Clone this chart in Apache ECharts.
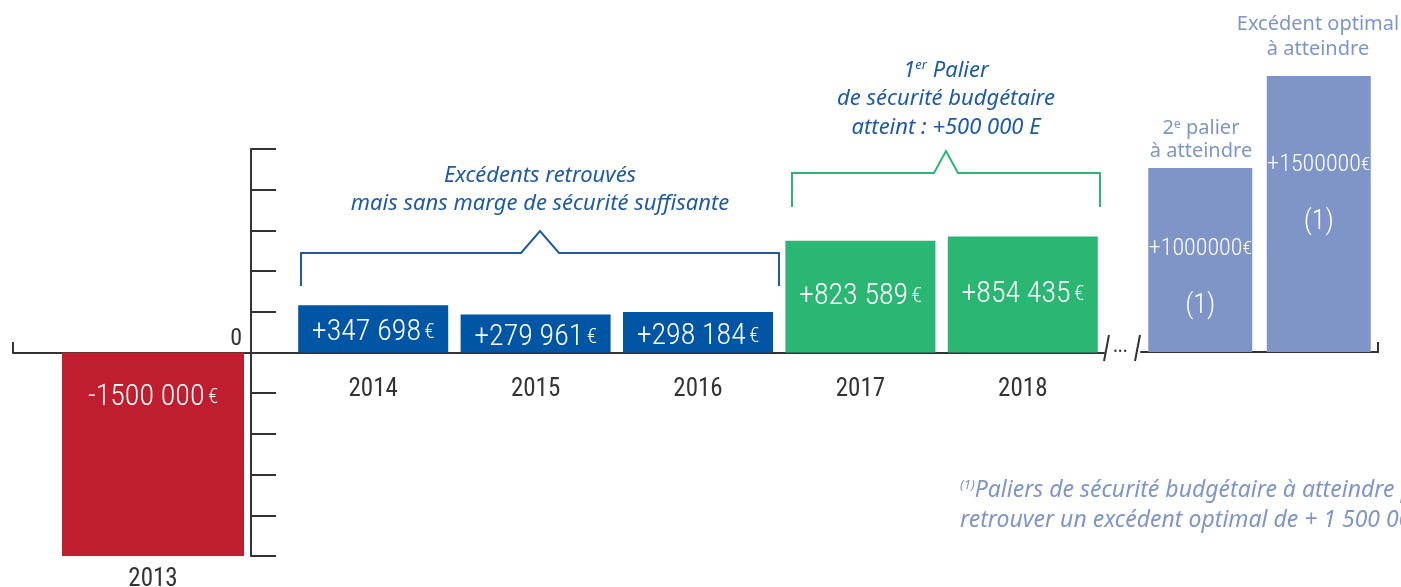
<!DOCTYPE html>
<html>
<head>
<meta charset="utf-8">
<script src="https://cdn.jsdelivr.net/npm/echarts@6/dist/echarts.min.js"></script>
<style>
html,body{margin:0;padding:0;background:#fff;}
#chart{width:1401px;height:587px;}
</style>
</head>
<body>
<div id="chart"></div>
<script>
// ---- data ----
const categoriesA = ['2013'];
const valuesA = [-1500000];
const labelsA = ['-1500 000'];

const categoriesB = ['2014', '2015', '2016', '2017', '2018'];
const blueValues = [347698, 279961, 298184, '-', '-'];
const greenValues = ['-', '-', '-', 823589, 854435];
const labelsB = ['+347 698', '+279 961', '+298 184', '+823 589', '+854 435'];

const categoriesC = ['2e palier', 'Excédent optimal'];
const targetValues = [1000000, 1500000];
const labelsC = ['+1000000', '+1500000'];

const yMin = -1500000, yMax = 1500000, yInterval = 300000;
const zeroLabel = '0';

// ---- styles ----
const numFont = '"Roboto Condensed", "Roboto", sans-serif';
const textFont = '"Noto Sans", "Open Sans", sans-serif';
const axisColor = '#333333';
const red = '#be1e2d', blue = '#0055a4', green = '#2bb673', lav = '#7f95c8', annBlue = '#1f5ba3';
const targetLabelDistance = [67, 75];

function richLabel(txt) { return '{n|' + txt + '} {e|€}'; }
const rich = {
  n: { fontFamily: numFont, fontWeight: 300, fontSize: 30, color: '#fff' },
  e: { fontFamily: numFont, fontWeight: 300, fontSize: 21, color: '#fff' }
};

const chart = echarts.init(document.getElementById('chart'), null, { renderer: 'canvas' });

const option = {
  backgroundColor: '#fff',
  animation: false,
  grid: [
    { left: 13, top: 149, width: 280, height: 407, outerBoundsMode: 'none', containLabel: false },
    { left: 292, top: 149, width: 812, height: 407, outerBoundsMode: 'none', containLabel: false },
    { left: 1141, top: 76, width: 237, height: 276, outerBoundsMode: 'none', containLabel: false }
  ],
  xAxis: [
    { type: 'category', gridIndex: 0, data: categoriesA,
      axisLine: { onZero: true, lineStyle: { color: axisColor, width: 2 } },
      axisTick: { show: false }, axisLabel: { show: false } },
    { type: 'category', gridIndex: 0, data: categoriesA, position: 'bottom',
      axisLine: { show: false, onZero: false }, axisTick: { show: false },
      axisLabel: { margin: 11, fontFamily: numFont, fontSize: 25, color: axisColor } },
    { type: 'category', gridIndex: 1, data: categoriesB,
      axisLine: { onZero: true, lineStyle: { color: axisColor, width: 2 } },
      axisTick: { show: false }, axisLabel: { show: false } },
    { type: 'category', gridIndex: 1, data: categoriesB, position: 'bottom', offset: -204,
      axisLine: { show: false, onZero: false }, axisTick: { show: false },
      axisLabel: { margin: 25, fontFamily: numFont, fontSize: 25, color: axisColor } },
    { type: 'category', gridIndex: 2, data: categoriesC,
      axisLine: { onZero: true, lineStyle: { color: axisColor, width: 2 } },
      axisTick: { show: false }, axisLabel: { show: false } }
  ],
  yAxis: [
    { type: 'value', gridIndex: 0, min: yMin, max: yMax, interval: yInterval, show: false, splitLine: { show: false } },
    { type: 'value', gridIndex: 1, min: yMin, max: yMax, interval: yInterval, position: 'left', offset: 41,
      axisLine: { show: true, lineStyle: { color: axisColor, width: 2 } },
      axisTick: { show: true, inside: true, length: 25, lineStyle: { color: axisColor, width: 2 } },
      splitLine: { show: false },
      axisLabel: { margin: 9, verticalAlign: 'bottom', fontFamily: numFont, fontSize: 24, color: axisColor,
        padding: [0, 0, 2, 0], formatter: v => (v === 0 ? zeroLabel : '') } },
    { type: 'value', gridIndex: 2, min: 0, max: 1500000, show: false, splitLine: { show: false } }
  ],
  series: [
    { type: 'bar', xAxisIndex: 0, yAxisIndex: 0, data: valuesA, barWidth: 182,
      itemStyle: { color: red },
      label: { show: true, position: 'insideTop', distance: 30,
        formatter: p => richLabel(labelsA[p.dataIndex]), rich: rich } },
    { type: 'bar', xAxisIndex: 2, yAxisIndex: 1, data: blueValues, barWidth: 150, barGap: '-100%',
      itemStyle: { color: blue },
      label: { show: true, position: 'inside', offset: [0, 4],
        formatter: p => richLabel(labelsB[p.dataIndex]), rich: rich } },
    { type: 'bar', xAxisIndex: 2, yAxisIndex: 1, data: greenValues, barWidth: 150, barGap: '-100%',
      itemStyle: { color: green },
      label: { show: true, position: 'inside',
        formatter: p => richLabel(labelsB[p.dataIndex]), rich: rich } },
    { type: 'bar', xAxisIndex: 4, yAxisIndex: 2, barWidth: 104,
      data: targetValues.map((v, i) => ({ value: v, label: { distance: targetLabelDistance[i] } })),
      itemStyle: { color: lav },
      label: { show: true, position: 'insideTop', lineHeight: 28.5,
        formatter: p => '{n|' + labelsC[p.dataIndex] + '}{e|€}\n\n{p|(1)}',
        rich: {
          n: { fontFamily: numFont, fontWeight: 300, fontSize: 24, color: '#fff', lineHeight: 28.5 },
          e: { fontFamily: numFont, fontWeight: 300, fontSize: 19, color: '#fff', lineHeight: 28.5 },
          p: { fontFamily: numFont, fontWeight: 300, fontSize: 28, color: '#fff', lineHeight: 28.5 }
        } } }
  ],
  graphic: [
    // axis end ticks
    { type: 'line', shape: { x1: 13, y1: 342, x2: 13, y2: 353 }, style: { stroke: axisColor, lineWidth: 2 } },
    { type: 'line', shape: { x1: 1378, y1: 342, x2: 1378, y2: 353 }, style: { stroke: axisColor, lineWidth: 2 } },
    // break marks
    { type: 'line', shape: { x1: 1104, y1: 361, x2: 1109, y2: 335 }, style: { stroke: axisColor, lineWidth: 2 } },
    { type: 'line', shape: { x1: 1135, y1: 361, x2: 1140, y2: 335 }, style: { stroke: axisColor, lineWidth: 2 } },
    { type: 'text', x: 1113, y: 338, style: { text: '...', fontFamily: textFont, fontSize: 18, fill: axisColor } },
    // brackets
    { type: 'polyline', shape: { points: [[301, 286], [301, 253], [521, 253], [540, 231], [559, 253], [779, 253], [779, 286]] },
      style: { stroke: annBlue, lineWidth: 2, fill: null } },
    { type: 'polyline', shape: { points: [[792, 207], [792, 173], [934, 173], [946, 151], [958, 173], [1100, 173], [1100, 207]] },
      style: { stroke: green, lineWidth: 2, fill: null } },
    // annotation texts
    { type: 'text', x: 540, y: 162, style: { text: 'Excédents retrouvés\nmais sans marge de sécurité suffisante',
      fontFamily: textFont, fontStyle: 'italic', fontSize: 22, lineHeight: 28, fill: annBlue, align: 'center' } },
    { type: 'text', x: 946, y: 56, style: { text: '{s|1}{sup|er}{s| Palier}\n{s|de sécurité budgétaire}\n{s|atteint : +500 000 E}',
      fontFamily: textFont, fontStyle: 'italic', fontSize: 22, lineHeight: 28.5, fill: annBlue, align: 'center',
      rich: { s: { fontFamily: textFont, fontStyle: 'italic', fontSize: 22, fill: annBlue, lineHeight: 28.5 },
              sup: { fontFamily: textFont, fontStyle: 'italic', fontSize: 13, fill: annBlue, padding: [0, 0, 9, 0], lineHeight: 28.5 } } } },
    { type: 'text', x: 1318, y: 12, style: { text: 'Excédent optimal\nà atteindre',
      fontFamily: textFont, fontSize: 20, lineHeight: 25, fill: lav, align: 'center' } },
    { type: 'text', x: 1201, y: 117, style: { text: '{a|2}{sup|e}{a| palier}\n{a|à atteindre}',
      fontFamily: textFont, fontSize: 20, lineHeight: 23, fill: lav, align: 'center',
      rich: { a: { fontFamily: textFont, fontSize: 20, fill: lav, lineHeight: 23 },
              sup: { fontFamily: textFont, fontSize: 12, fill: lav, padding: [0, 0, 8, 0], lineHeight: 23 } } } },
    // footnote
    { type: 'text', x: 960, y: 475, style: { text: '{sup|(1)}{t|Paliers de sécurité budgétaire à atteindre pour}\n{t|retrouver un excédent optimal de + 1 500 000 €}',
      fontFamily: textFont, fontStyle: 'italic', fontSize: 23, lineHeight: 30, fill: lav,
      rich: { t: { fontFamily: textFont, fontStyle: 'italic', fontSize: 23, fill: lav, lineHeight: 30 },
              sup: { fontFamily: textFont, fontStyle: 'italic', fontSize: 13, fill: lav, padding: [0, 0, 10, 0], lineHeight: 30 } } } }
  ]
};
chart.setOption(option);
</script>
</body>
</html>
